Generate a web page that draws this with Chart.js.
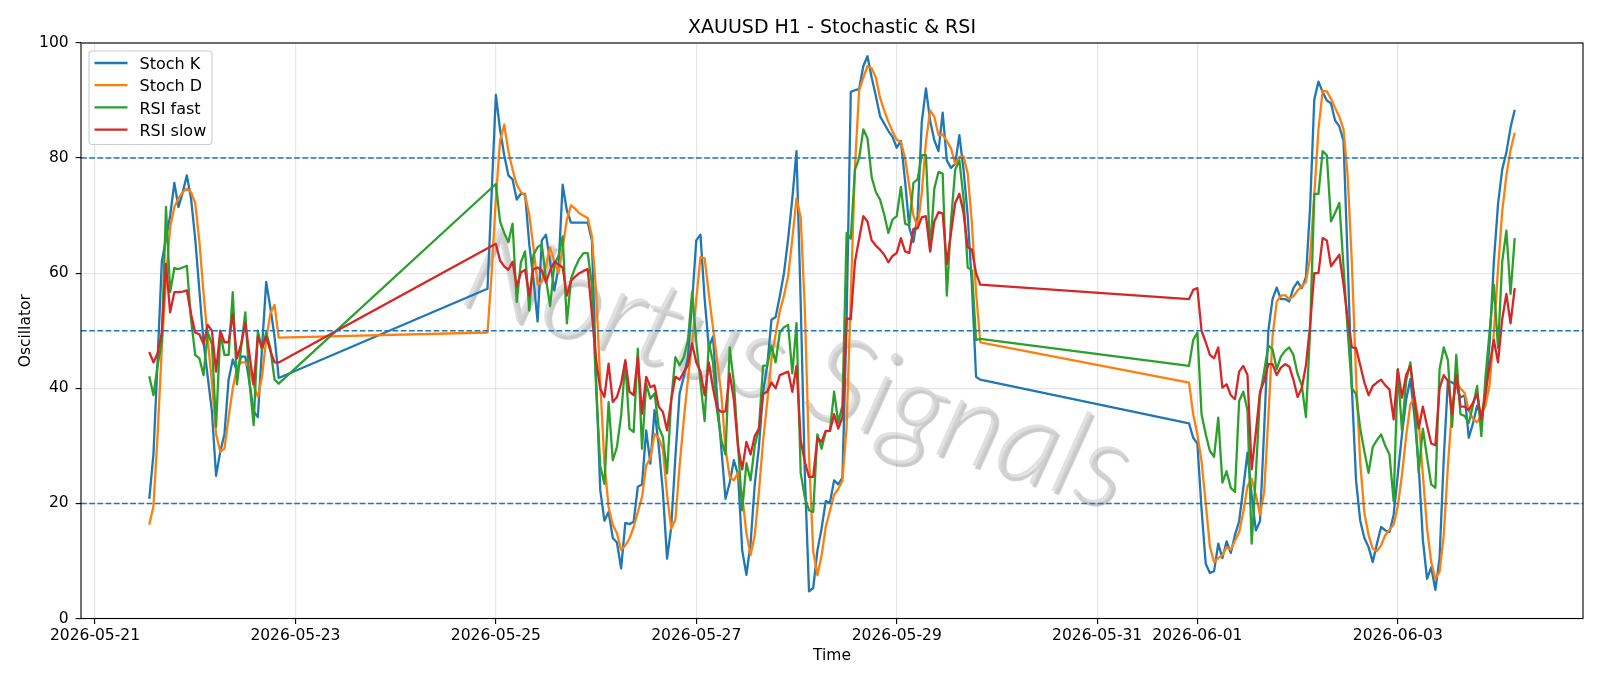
<!DOCTYPE html>
<html>
<head>
<meta charset="utf-8">
<title>XAUUSD H1 - Stochastic &amp; RSI</title>
<script src="https://cdn.jsdelivr.net/npm/chart.js@4.4.1/dist/chart.umd.min.js"></script>
<style>
  html, body { margin: 0; padding: 0; background: #fff; }
  #wrap { width: 1600px; height: 686px; }
</style>
</head>
<body>
<div id="wrap"><canvas id="osc" width="1600" height="686"></canvas></div>
<script>
// first bar of each trading session, in hours after 2026-05-21 00:00
const sessionStart = [13, 94, 262];

// hourly values per session (null = no value on that bar)
const stochK = [
    [20.8, 28.5, 45, 62, 66, 70, 75.7, 71.5, 74, 77, 73, 66, 57, 48, 42, 36, 24.8, 29, 32, 41.5,
     45, 43, 45.5, 45.5, 41, 36, 35, 47, 58.5, 54, 49, 41.8],
    [57.3, 74, 91, 85, 80.5, 77, 76.3, 72.8, 73.8, 73.8, 65, 59, 51.6, 65.7, 66.7, 62, 57, 61, 75.4, 70.9,
     68.8, 68.8, 68.8, 68.8, 68.8, 65.7, 42, 22.3, 17, 18.5, 14, 13.2, 8.7, 16.6, 16.4, 16.8, 22.9, 23.3, 32.7, 26.9,
     36.2, 30, 22, 10.4, 15.9, 28.1, 39.1, 42, 45.4, 55, 65.7, 66.7, 55.5, 47.1, 49, 38.3, 29.5, 20.8, 23.6, 27.5,
     25, 11.8, 7.6, 13, 23.3, 29.8, 39.4, 44, 51.9, 52.4, 56, 60, 66, 73, 81.2, 55, 25, 4.7, 5.3, 11.8,
     15.6, 20.4, 20.1, 24, 23.3, 24.5, 52, 91.5, 91.8, 92, 96, 97.7, 94, 90.8, 87.3, 86, 84.7, 83.7, 81.8, 83,
     76, 68, 65.4, 70, 86.3, 92.1, 86.5, 83.1, 81.2, 87.9, 79.6, 78.3, 79, 84, 78, 70, 58, 42, 41.5],
    [33.9, 31.4, 30.4, 19, 9.5, 7.9, 8.2, 13, 10.5, 13.4, 11.4, 14.5, 16.9, 22.7, 28.8, 21.4, 15.3, 16.9, 33, 50,
     55.5, 57.5, 55.5, 55.5, 55.1, 57.4, 58.5, 57.4, 59.3, 71.5, 90.2, 93.3, 91.5, 90, 89.5, 86.5, 85.5, 83, 62, 40,
     24, 17, 14, 12.4, 9.8, 13, 15.9, 15.3, 15, 18, 25, 32, 38, 41.6, 35, 26.5, 13.7, 6.9, 8.9, 5,
     10.5, 27.8, 41.3, 41, 40.5, 38.4, 38.8, 31.4, 33.9, 37, 35, 39, 48, 62, 72, 78, 81, 85.3, 88.4]
];

const stochD = [
    [16.3, 19.5, 32, 47, 59, 68, 71.5, 73, 74.1, 74.7, 74.1, 72.2, 65.5, 56.5, 48.5, 41, 32, 29, 29.5, 35,
     40, 43.5, 44.5, 44.5, 43.5, 40.5, 38.5, 42, 48.5, 53, 54.5, 48.8],
    [49.7, 60, 73, 83, 85.8, 81.2, 78, 75.4, 74.1, 73.5, 70.2, 64.5, 58, 58.5, 61.3, 64.5, 62, 60, 64.5, 69.3,
     71.8, 71.2, 70.4, 70, 69.6, 66.4, 57, 41, 27, 19.3, 16.3, 14.8, 11.9, 12.7, 13.9, 15.9, 18.5, 21.1, 26.6, 27.8,
     32.1, 31.4, 29.4, 21.5, 15.6, 17.2, 26.5, 34.5, 41.5, 47.8, 55.5, 62.8, 62.6, 56.4, 50.5, 44.8, 38.9, 29.5, 24.6, 24,
     25.4, 21.4, 14.8, 11, 14.5, 22, 30.8, 37.7, 45.1, 49.4, 53.4, 56.1, 59.5, 66, 73, 69.7, 53.7, 28.2, 11.7, 7.5,
     10.9, 15.9, 18.7, 21.5, 22.5, 24, 33.3, 56, 78.4, 91.8, 94, 96, 95.6, 94, 90.5, 88.3, 86.3, 84.6, 83.2, 82.8,
     80, 75.2, 70, 68, 73.9, 82.8, 88.3, 87.2, 84, 84.1, 83, 81.7, 79, 80.2, 80.3, 77.3, 68.7, 56.7, 48],
    [41, 35.5, 32, 27.3, 20, 12.5, 9.8, 10.5, 11, 12.4, 12, 13.5, 15, 18.5, 23, 24.3, 21.5, 18, 22, 35,
     49, 55, 56.1, 56.2, 55.5, 56, 57, 57.8, 58.5, 62.7, 73.7, 85, 91.7, 91.6, 90.3, 88.7, 87.2, 85, 76.8, 61.7,
     42, 27, 18.3, 14.5, 12.1, 11.7, 12.7, 14.5, 15.4, 16.3, 19.5, 25, 31.7, 37.2, 38.5, 34.4, 25, 15.7, 9.8, 6.9,
     8.1, 14.4, 26.5, 36.7, 40.9, 40, 39.2, 36.2, 34.7, 34.1, 35.3, 37, 40.7, 49.7, 60.7, 70.7, 77, 81.4, 84.4]
];

const rsiFast = [
    [42.1, 38.8, 44, 48, 71.5, 56.7, 60.9, 60.7, 61, 61.3, 52, 45.8, 45.2, 42.3, 49.7, 47.7, 33.3, 49.7, 45.8, 45.8,
     56.7, 40.7, 47.1, 53.2, 41, 33.6, 50, 46.6, 49.7, 47, 41.5, 40.8],
    [null, null, 75.5, 69, 67, 65.4, 68.6, 55, 61.9, 63.8, 53.5, 63.2, 64.5, 65, 59, 54.3, 61.5, 63, 66.4, 51.3,
     59, 61, 62.5, 63.5, 63.5, 58, 40, 26.5, 23.4, 37.6, 27.5, 29.8, 35.3, 44.6, 33, 32.4, 46.9, 29.5, 40.8, 38.2,
     39.1, 33.3, 31.5, 25.2, 38, 45.4, 44, 45.4, 48.3, 56.7, 48, 41, 34.3, 48, 44.5, 36, 31, 28.5, 47.1, 41,
     30, 18.8, 27, 24, 30, 33, 43.9, 44, 47.4, 44.5, 49.7, 50.6, 51, 42.6, 51.3, 25.3, 21, 18.8, 18.5, 32,
     29.5, 32.5, 32.6, 39.4, 34, 37, 67, 66, 78, 80, 85, 83.4, 76.7, 74.1, 72.8, 70.2, 67, 69.3, 69.9, 75,
     68.6, 68.3, 75.7, 76.3, 80.5, 80.5, 63.8, 74.7, 77.6, 77.3, 56.1, 69, 78, 79.6, 73, 61, 60.5, 48.4, 48.6],
    [43.9, 48.4, 49.7, 35.5, 32, 29.1, 28.1, 34.9, 23.6, 25.6, 22.7, 22, 37.8, 39.4, 36.2, 13, 25, 38.8, 43, 47.4,
     46.8, 43.3, 45.5, 46.5, 47.1, 45.8, 42.5, 40.5, 35, 50, 73.8, 73.8, 81.2, 80.5, 69, 70.5, 72.2, 61, 50, 40,
     39, 33, 29, 25.3, 29.8, 31, 32, 30, 28.5, 20.4, 43.3, 32.6, 41.3, 44.5, 38, 25.3, 33, 28, 23.3, 22.7,
     43.3, 47.1, 44.9, 33.3, 45.8, 35.5, 35.2, 34, 37, 40.4, 31.7, 42, 50, 58, 47, 62, 67.4, 56.4, 66.1]
];

const rsiSlow = [
    [46.3, 44.5, 46.1, 49.7, 61.6, 53.2, 56.7, 56.7, 56.8, 57, 52.9, 49.7, 49.4, 47.7, 51, 50, 42.9, 50, 48, 48,
     52.9, 45.2, 47.7, 51.3, 45.8, 40.7, 49, 47.1, 49, 46.5, 44.5, 44.5],
    [null, null, 65.1, 62.2, 61.2, 60.6, 62, 57.7, 60.1, 60.6, 56.1, 60.7, 61, 60.5, 58.4, 60.5, 62, 61.5, 61, 56.1,
     58.7, 59.4, 60, 60.4, 60.7, 53, 45, 39.9, 38.5, 44.3, 37.6, 38.5, 40.8, 44.9, 39.4, 38.8, 45.4, 35.6, 42, 40.2,
     40.5, 36.8, 35.9, 32.7, 38, 42, 41.5, 42.8, 44, 47.8, 44.5, 42.9, 38.8, 44.5, 40, 36.5, 35.9, 36, 42.6, 38,
     29.8, 25.9, 30.7, 28.5, 31.7, 33, 39, 39.4, 41, 40, 42.3, 42.6, 42.9, 39.4, 43.9, 31, 27.2, 24.6, 24.6, 31.4,
     30.7, 32.6, 32.6, 35.5, 33, 35, 52.2, 52, 62, 66, 69.9, 69, 65.7, 64.8, 64.1, 63.2, 61.9, 63, 63.5, 66.1,
     63.8, 63.5, 67.7, 67.8, 69.7, 69.9, 63.8, 69, 70.6, 70.4, 61.6, 67, 72.2, 73.8, 70.5, 64.5, 64.1, 60, 58],
    [55.5, 57.1, 57.4, 50, 48, 45.8, 45.2, 47.1, 40.1, 40.7, 38.8, 38.1, 42.9, 43.9, 42.3, 25.9, 32.3, 39.4, 41.3, 44.2,
     44.2, 42.3, 43.6, 44.2, 43.8, 41.5, 38.5, 40, 44, 51, 60, 60, 66.1, 65.7, 61.2, 62.2, 63.2, 58, 52, 47.1,
     47, 44, 41, 38.8, 40.4, 41, 41.5, 40.5, 39.8, 34.6, 43.3, 38.4, 42.3, 43.9, 38, 33, 36.8, 33.5, 30.4, 30.1,
     40, 42.3, 41.3, 35.5, 42.3, 36.8, 36.8, 36.2, 37.5, 39, 34.6, 39, 44, 48.4, 44.5, 52, 56.4, 51.3, 57.4]
];

const seriesNames = ['Stoch K', 'Stoch D', 'RSI fast', 'RSI slow'];
const seriesColors = ['#1f77b4', '#ff7f0e', '#2ca02c', '#d62728'];

const tickHours = [0, 48, 96, 144, 192, 240, 264, 312];
const tickLabels = ['2026-05-21', '2026-05-23', '2026-05-25', '2026-05-27',
                    '2026-05-29', '2026-05-31', '2026-06-01', '2026-06-03'];
const yTicks = [0, 20, 40, 60, 80, 100];
const levels = [20, 50, 80];
const xMin = -3.35, xMax = 356.35;
const watermark = 'Nortus Signals';

const FONT = "'DejaVu Sans', sans-serif";
Chart.defaults.font.family = FONT;
Chart.defaults.color = '#000';

function toPoints(sessions) {
    const pts = [];
    sessions.forEach((vals, s) => {
        vals.forEach((v, i) => pts.push({ x: sessionStart[s] + i, y: v }));
    });
    return pts;
}

// watermark, overbought / middle / oversold lines, frame, title and legend
const decorations = {
    id: 'decorations',
    beforeDatasetsDraw(chart) {
        const { ctx } = chart;
        ctx.save();
        ctx.translate(797, 370);
        ctx.rotate(17.5 * Math.PI / 180);
        let size = 100;
        ctx.font = `italic 300 ${size}px Lato, sans-serif`;
        size = size * 690 / ctx.measureText(watermark).width;
        ctx.font = `italic 300 ${size}px Lato, sans-serif`;
        ctx.textAlign = 'center';
        ctx.textBaseline = 'middle';
        ctx.shadowColor = 'rgba(0,0,0,0.3)';
        ctx.shadowOffsetX = 2.5;
        ctx.shadowOffsetY = 3;
        ctx.shadowBlur = 1;
        ctx.fillStyle = 'rgba(212,212,212,0.7)';
        ctx.fillText(watermark, 0, 0);
        ctx.restore();
    },
    afterDatasetsDraw(chart) {
        const { ctx, chartArea: a, scales: { y } } = chart;
        ctx.save();
        ctx.strokeStyle = '#1f77b4';
        ctx.lineWidth = 1.5;
        ctx.setLineDash([5.7, 2.5]);
        levels.forEach(v => {
            const py = y.getPixelForValue(v);
            ctx.beginPath();
            ctx.moveTo(a.left, py);
            ctx.lineTo(a.right, py);
            ctx.stroke();
        });
        ctx.restore();
    },
    afterDraw(chart) {
        const { ctx, chartArea: a } = chart;
        ctx.save();
        ctx.strokeStyle = '#000';
        ctx.lineWidth = 1.1;
        ctx.strokeRect(a.left, a.top, a.right - a.left, a.bottom - a.top);

        ctx.fillStyle = '#000';
        ctx.font = '19px ' + FONT;
        ctx.textAlign = 'center';
        ctx.textBaseline = 'alphabetic';
        ctx.fillText('XAUUSD H1 - Stochastic & RSI', (a.left + a.right) / 2, 33);

        // legend, upper left
        const bx = a.left + 8, by = a.top + 8, bw = 123, bh = 93.5;
        ctx.beginPath();
        ctx.roundRect(bx, by, bw, bh, 3.5);
        ctx.fillStyle = 'rgba(255,255,255,0.8)';
        ctx.fill();
        ctx.strokeStyle = '#cccccc';
        ctx.lineWidth = 1.1;
        ctx.stroke();

        ctx.font = '16px ' + FONT;
        ctx.textAlign = 'left';
        chart.data.datasets.forEach((ds, i) => {
            const ry = by + 12 + i * 22.2;
            ctx.strokeStyle = ds.borderColor;
            ctx.lineWidth = 2.3;
            ctx.beginPath();
            ctx.moveTo(bx + 5.5, ry);
            ctx.lineTo(bx + 38.5, ry);
            ctx.stroke();
            ctx.fillStyle = '#000';
            ctx.fillText(ds.label, bx + 50.5, ry + 6.2);
        });
        ctx.restore();
    }
};

const datasets = [stochK, stochD, rsiFast, rsiSlow].map((series, i) => ({
    label: seriesNames[i],
    data: toPoints(series),
    borderColor: seriesColors[i],
    backgroundColor: seriesColors[i],
    borderWidth: 2.3,
    borderJoinStyle: 'round',
    pointRadius: 0,
    tension: 0,
    fill: false,
    spanGaps: true,
    order: 4 - i
}));

const gridColor = 'rgba(176,176,176,0.3)';

new Chart(document.getElementById('osc'), {
    type: 'line',
    data: { datasets },
    options: {
        responsive: false,
        animation: false,
        devicePixelRatio: 1,
        events: [],
        layout: { padding: { left: 0, right: 17, top: 43, bottom: 0 } },
        plugins: {
            legend: { display: false },
            title: { display: false },
            tooltip: { enabled: false }
        },
        scales: {
            x: {
                type: 'linear',
                min: xMin,
                max: xMax,
                afterBuildTicks: scale => { scale.ticks = tickHours.map(v => ({ value: v })); },
                afterFit: scale => { scale.height = 67.5; },
                ticks: {
                    autoSkip: false,
                    maxRotation: 0,
                    padding: 3,
                    font: { size: 15.5 },
                    color: '#000',
                    callback: (value, index) => tickLabels[index]
                },
                grid: {
                    color: gridColor,
                    lineWidth: 1.2,
                    drawTicks: true,
                    tickLength: 5.4,
                    tickColor: '#000',
                    tickWidth: 1.1
                },
                border: { display: false },
                title: {
                    display: true,
                    text: 'Time',
                    font: { size: 15.5 },
                    color: '#000',
                    padding: { top: 0, bottom: 20.8 }
                }
            },
            y: {
                type: 'linear',
                min: 0,
                max: 100,
                afterBuildTicks: scale => { scale.ticks = yTicks.map(v => ({ value: v })); },
                afterFit: scale => { scale.width = 81; },
                ticks: { padding: 7, font: { size: 15.5 }, color: '#000' },
                grid: {
                    color: gridColor,
                    lineWidth: 1.2,
                    drawTicks: true,
                    tickLength: 5.4,
                    tickColor: '#000',
                    tickWidth: 1.1
                },
                border: { display: false },
                title: {
                    display: true,
                    text: 'Oscillator',
                    font: { size: 15.5 },
                    color: '#000',
                    padding: { top: 16.3, bottom: 0 }
                }
            }
        }
    },
    plugins: [decorations]
});
</script>
</body>
</html>
